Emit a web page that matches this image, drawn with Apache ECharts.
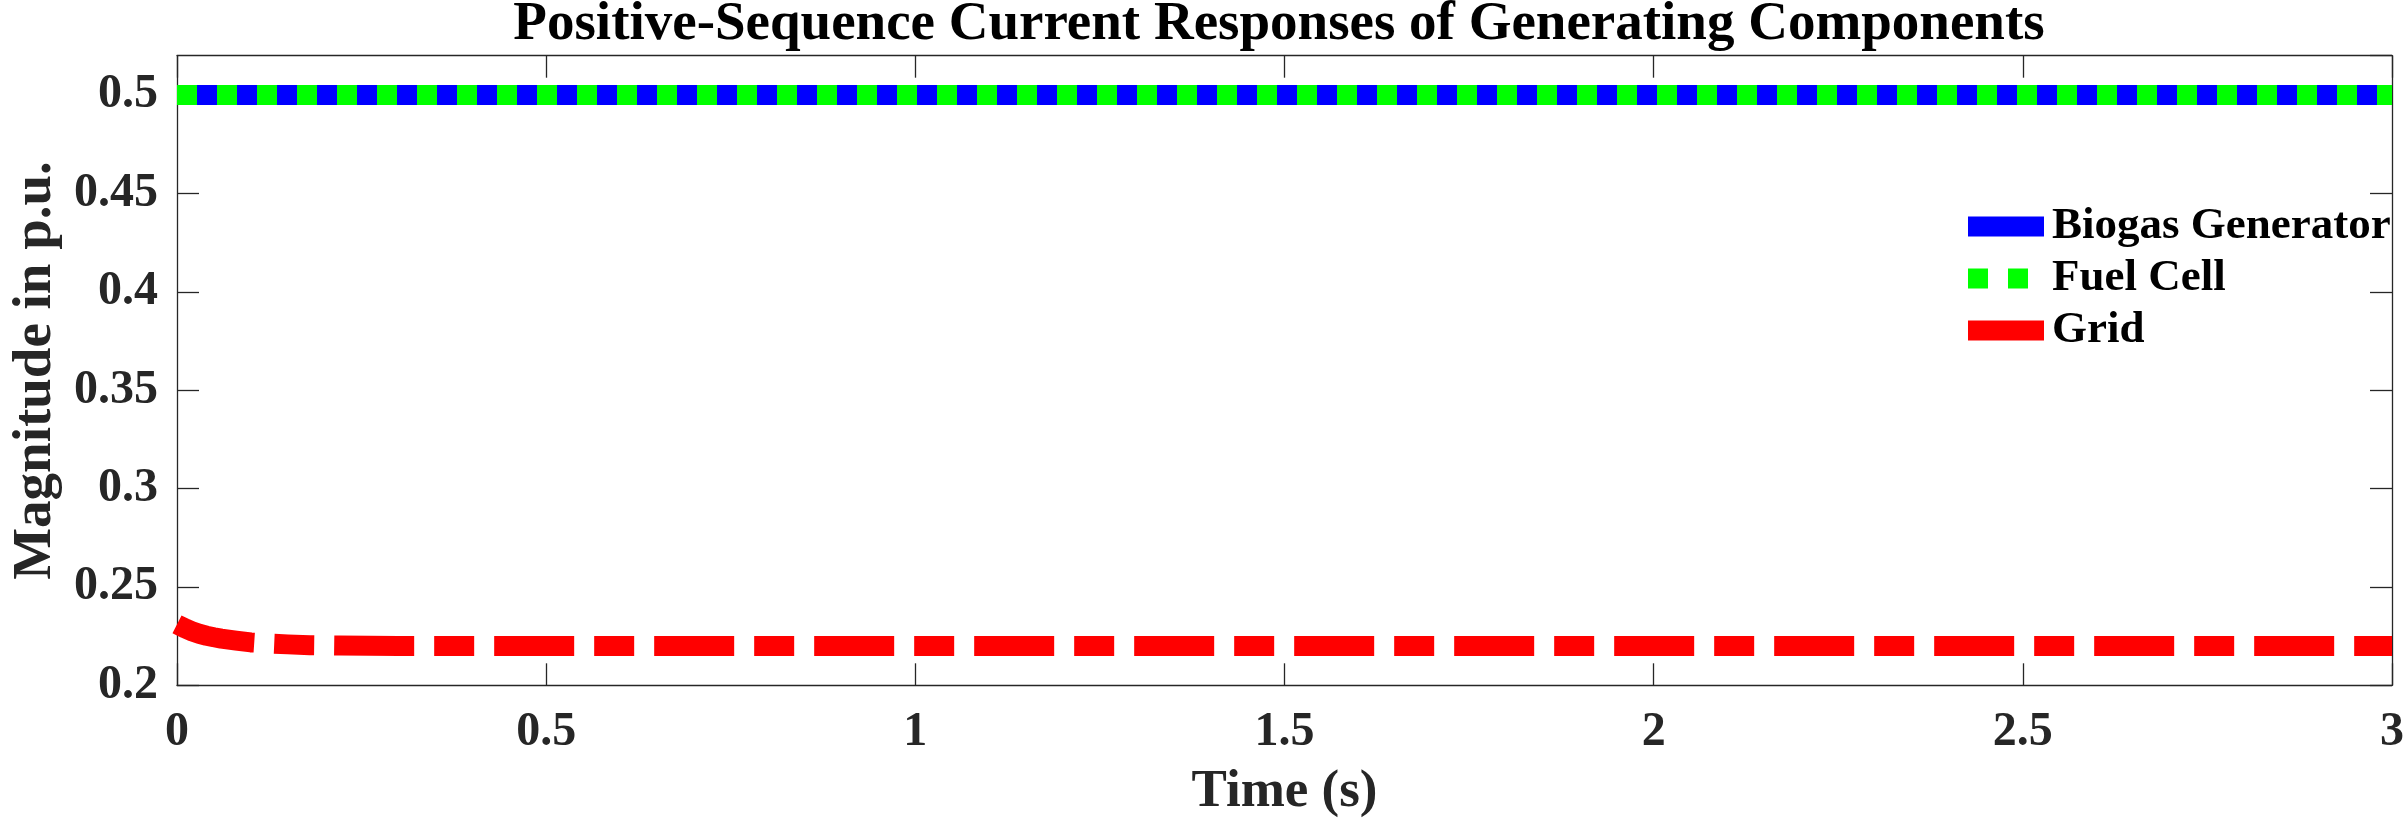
<!DOCTYPE html>
<html>
<head>
<meta charset="utf-8">
<title>Positive-Sequence Current Responses</title>
<script src="https://cdn.jsdelivr.net/npm/echarts@6.0.0/dist/echarts.min.js"></script>
<style>
  html, body { margin: 0; padding: 0; background: #fff; }
  #chart { width: 2408px; height: 826px; }
</style>
</head>
<body>
<div id="chart"></div>
<script>
// values (time in s, magnitude in p.u.)
const timeSec = [0, 0.01, 0.02, 0.03, 0.04, 0.05, 0.06, 0.08, 0.1, 0.12, 0.15, 0.18, 0.22, 0.3, 0.5, 1, 1.5, 2, 2.5, 3];
const biogasMag = [0.5, 0.5, 0.5, 0.5, 0.5, 0.5, 0.5, 0.5, 0.5, 0.5, 0.5, 0.5, 0.5, 0.5, 0.5, 0.5, 0.5, 0.5, 0.5, 0.5];
const fuelCellMag = [0.5, 0.5, 0.5, 0.5, 0.5, 0.5, 0.5, 0.5, 0.5, 0.5, 0.5, 0.5, 0.5, 0.5, 0.5, 0.5, 0.5, 0.5, 0.5, 0.5];
const gridMag = [0.231, 0.2291, 0.2275, 0.2262, 0.2252, 0.2244, 0.2237, 0.2227, 0.2218, 0.2213, 0.2208, 0.2204, 0.2202, 0.22, 0.22, 0.22, 0.22, 0.22, 0.22, 0.22];
const seriesNames = ['Biogas Generator', 'Fuel Cell', 'Grid'];
const xTicks = [0, 0.5, 1, 1.5, 2, 2.5, 3];
const yTicks = [0.2, 0.25, 0.3, 0.35, 0.4, 0.45, 0.5];

const font = '"Liberation Serif", "Times New Roman", serif';
const ink = '#262626';
const colors = ['#0000ff', '#00ff00', '#ff0000'];
const dashes = ['solid', [20, 20], [80, 20, 40, 20]];

const pairs = (ys) => timeSec.map((t, i) => [t, ys[i]]);

const axisLine = { show: true, onZero: false, lineStyle: { color: ink, width: 1.3 } };
const axisTick = { show: true, inside: true, length: 22, lineStyle: { color: ink, width: 1.3 } };

let chart = echarts.init(document.getElementById('chart'), null, { renderer: 'canvas' });

chart.setOption({
  animation: false,
  backgroundColor: '#fff',
  textStyle: { fontFamily: font },
  title: {
    text: 'Positive-Sequence Current Responses of Generating Components',
    left: 1279,
    top: -3,
    padding: 0,
    textAlign: 'center',
    textStyle: { fontFamily: font, fontWeight: 'bold', fontSize: 55, color: '#000' }
  },
  legend: {
    orient: 'vertical',
    left: 1958,
    top: 204,
    padding: 0,
    itemWidth: 76,
    itemHeight: 20,
    itemGap: 7,
    data: seriesNames.map((n, i) => ({
      name: n,
      // line sample only, no marker in the middle
      itemStyle: { opacity: 0, borderWidth: 0 },
      lineStyle: { color: colors[i], width: 20, type: dashes[i], cap: 'butt', dashOffset: 0 }
    })),
    textStyle: { fontFamily: font, fontWeight: 'bold', fontSize: 45, lineHeight: 45, color: '#000', padding: [0, 0, 0, 3] }
  },
  grid: { left: 166.7, right: 16, top: 55.7, bottom: 140.7, containLabel: false },
  xAxis: [
    {
      type: 'value', position: 'bottom', min: xTicks[0], max: xTicks[xTicks.length - 1], interval: 0.5,
      name: 'Time (s)', nameLocation: 'middle', nameGap: 81,
      nameTextStyle: { fontFamily: font, fontWeight: 'bold', fontSize: 53, color: ink },
      axisLine: axisLine, axisTick: axisTick, splitLine: { show: false },
      axisLabel: { margin: 23, fontFamily: font, fontWeight: 'bold', fontSize: 48, color: ink,
        formatter: (v) => String(+v.toFixed(2)) }
    },
    {
      type: 'value', position: 'top', min: xTicks[0], max: xTicks[xTicks.length - 1], interval: 0.5,
      axisLine: axisLine, axisTick: axisTick, splitLine: { show: false }, axisLabel: { show: false }
    }
  ],
  yAxis: [
    {
      type: 'value', position: 'left', min: yTicks[0], max: 0.52, interval: 0.05,
      name: 'Magnitude in p.u.', nameLocation: 'middle', nameGap: 114,
      nameTextStyle: { fontFamily: font, fontWeight: 'bold', fontSize: 55, color: ink },
      axisLine: axisLine, axisTick: axisTick, splitLine: { show: false },
      axisLabel: { margin: 19, fontFamily: font, fontWeight: 'bold', fontSize: 48, color: ink,
        showMaxLabel: false,
        formatter: (v) => (yTicks.some((y) => Math.abs(y - v) < 1e-9) ? String(+v.toFixed(2)) : '') }
    },
    {
      type: 'value', position: 'right', min: yTicks[0], max: 0.52, interval: 0.05,
      axisLine: axisLine, axisTick: axisTick, splitLine: { show: false }, axisLabel: { show: false }
    }
  ],
  series: [
    {
      name: seriesNames[0], type: 'line', symbol: 'none', data: pairs(biogasMag),
      lineStyle: { color: colors[0], width: 20, type: dashes[0], cap: 'butt' },
      itemStyle: { color: colors[0] }
    },
    {
      name: seriesNames[1], type: 'line', symbol: 'none', data: pairs(fuelCellMag),
      lineStyle: { color: colors[1], width: 20, type: dashes[1], cap: 'butt' },
      itemStyle: { color: colors[1] }
    },
    {
      name: seriesNames[2], type: 'line', symbol: 'none', data: pairs(gridMag),
      lineStyle: { color: colors[2], width: 20, type: dashes[2], cap: 'butt', join: 'round' },
      itemStyle: { color: colors[2] }
    }
  ]
});
</script>
</body>
</html>
